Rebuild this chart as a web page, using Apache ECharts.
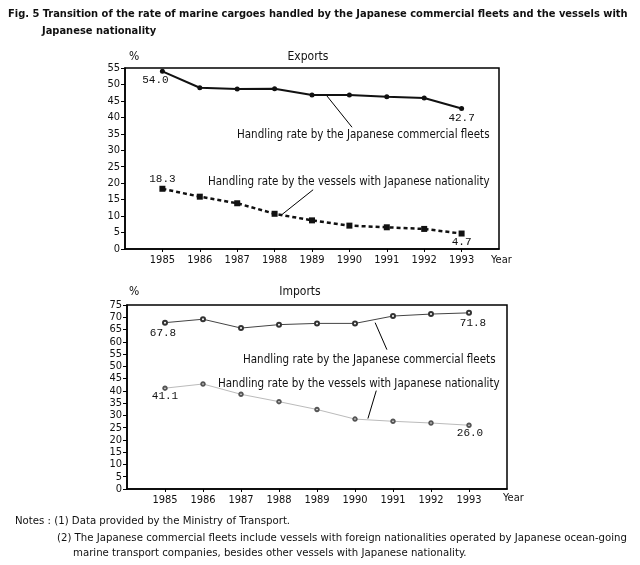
<!DOCTYPE html>
<html><head><meta charset="utf-8">
<script src="https://cdn.jsdelivr.net/npm/echarts@6/dist/echarts.min.js"></script>
<style>html,body{margin:0;padding:0;background:#fff}#c{width:640px;height:565px}</style>
</head><body><div id="c"></div>
<script>
const years = [1985, 1986, 1987, 1988, 1989, 1990, 1991, 1992, 1993];
const expFleet = [54.0, 49.0, 48.6, 48.7, 46.8, 46.8, 46.3, 45.9, 42.7];
const expVessel = [18.3, 15.9, 13.9, 10.7, 8.7, 7.1, 6.6, 6.1, 4.7];
const impFleet = [67.8, 69.2, 65.6, 67.0, 67.5, 67.5, 70.5, 71.3, 71.8];
const impVessel = [41.1, 42.8, 38.6, 35.6, 32.4, 28.5, 27.6, 26.9, 26.0];
const titleLines = ['Fig. 5 Transition of the rate of marine cargoes handled by the Japanese commercial fleets and the vessels with', 'Japanese nationality'];
const panelTitles = ['Exports', 'Imports'];
const seriesNames = ['Handling rate by the Japanese commercial fleets', 'Handling rate by the vessels with Japanese nationality'];
const notes = ['Notes : (1) Data provided by the Ministry of Transport.',
  '(2) The Japanese commercial fleets include vessels with foreign nationalities operated by Japanese ocean-going',
  'marine transport companies, besides other vessels with Japanese nationality.'];

const FONT = "'Liberation Sans Narrow','DejaVu Sans Condensed','Liberation Sans',sans-serif";
const MONO = "'Liberation Mono','DejaVu Sans Mono',monospace";

function pts(vals, labelOffsets) {
  return vals.map((v, i) => {
    const item = { value: [years[i], v] };
    const off = i === 0 ? labelOffsets[0] : (i === vals.length - 1 ? labelOffsets[1] : null);
    if (off) {
      item.label = { show: true, position: 'inside', offset: off, formatter: v.toFixed(1),
        fontFamily: MONO, fontSize: 11, color: '#111' };
    }
    return item;
  });
}

function xAxis(gi) {
  return { gridIndex: gi, type: 'value', min: 1984, max: 1994, interval: 1,
    axisLine: { show: true, lineStyle: { color: '#000', width: 1.5 } },
    axisTick: { show: true, length: 3, customValues: years, lineStyle: { color: '#000' } },
    axisLabel: { customValues: years, formatter: v => String(v), margin: 6, fontSize: 11, color: '#111', fontFamily: FONT },
    splitLine: { show: false } };
}
function yAxis(gi, max) {
  return { gridIndex: gi, type: 'value', min: 0, max: max, interval: 5,
    axisLine: { show: true, lineStyle: { color: '#000', width: 1.5 } },
    axisTick: { show: true, length: 4, lineStyle: { color: '#000' } },
    axisLabel: { margin: 5, fontSize: 11, color: '#111', fontFamily: FONT },
    splitLine: { show: false } };
}
function leader(a, b) {
  return { silent: true, symbol: 'none', label: { show: false },
    lineStyle: { color: '#000', width: 1, type: 'solid' },
    data: [[{ coord: a }, { coord: b }]] };
}
function txt(x, y, s, font, align) {
  return { type: 'text', x: x, y: y, style: { text: s, font: font, fill: '#111', textAlign: align || 'left', textVerticalAlign: 'middle' } };
}

const chart = echarts.init(document.getElementById('c'), null, { renderer: 'canvas' });
chart.setOption({
  backgroundColor: '#fff',
  animation: false,
  grid: [
    { left: 125, top: 68, width: 374, height: 181, show: true, borderColor: '#000', borderWidth: 1.5 },
    { left: 127, top: 305, width: 380, height: 184, show: true, borderColor: '#000', borderWidth: 1.5 }
  ],
  xAxis: [xAxis(0), xAxis(1)],
  yAxis: [yAxis(0, 55), yAxis(1, 75)],
  series: [
    { type: 'line', name: seriesNames[0], xAxisIndex: 0, yAxisIndex: 0,
      data: pts(expFleet, [[-7, 9], [0, 10]]),
      symbol: 'circle', symbolSize: 5, itemStyle: { color: '#111' },
      lineStyle: { color: '#111', width: 2 },
      markLine: leader([1989.4, 46.5], [1990.07, 37.0]) },
    { type: 'line', name: seriesNames[1], xAxisIndex: 0, yAxisIndex: 0,
      data: pts(expVessel, [[0, -10], [0, 9]]),
      symbol: 'rect', symbolSize: 6, itemStyle: { color: '#111' },
      lineStyle: { color: '#111', width: 2.5, type: [4, 3] },
      markLine: leader([1988.2, 10.5], [1989.03, 18.0]) },
    { type: 'line', name: seriesNames[0], xAxisIndex: 1, yAxisIndex: 1,
      data: pts(impFleet, [[-2, 10], [4, 10]]),
      symbol: 'emptyCircle', symbolSize: 4, itemStyle: { color: '#333', borderWidth: 0.8 },
      lineStyle: { color: '#444', width: 1 },
      markLine: leader([1990.53, 67.8], [1990.84, 56.8]) },
    { type: 'line', name: seriesNames[1], xAxisIndex: 1, yAxisIndex: 1,
      data: pts(impVessel, [[0, 8], [1, 8]]),
      symbol: 'emptyCircle', symbolSize: 3.5, itemStyle: { color: '#555', borderWidth: 0.8 },
      lineStyle: { color: '#bbb', width: 1 },
      markLine: leader([1990.34, 28.7], [1990.56, 40.1]) }
  ],
  graphic: [
    txt(8, 14, titleLines[0], 'bold 11px ' + FONT),
    txt(42, 31, titleLines[1], 'bold 11px ' + FONT),
    txt(129, 57, '%', '12px ' + FONT),
    txt(129, 292, '%', '12px ' + FONT),
    txt(308, 57, panelTitles[0], '12px ' + FONT, 'center'),
    txt(300, 292, panelTitles[1], '12px ' + FONT, 'center'),
    txt(237, 135, seriesNames[0], '11.5px ' + FONT),
    txt(208, 182, seriesNames[1], '11.5px ' + FONT),
    txt(243, 360, seriesNames[0], '11.5px ' + FONT),
    txt(218, 384, seriesNames[1], '11.5px ' + FONT),
    txt(491, 260, 'Year', '11px ' + FONT),
    txt(503, 498, 'Year', '11px ' + FONT),
    txt(15, 521, notes[0], '11.3px ' + FONT),
    txt(57, 538, notes[1], '11.3px ' + FONT),
    txt(73, 553, notes[2], '11.3px ' + FONT)
  ]
});
</script></body></html>
